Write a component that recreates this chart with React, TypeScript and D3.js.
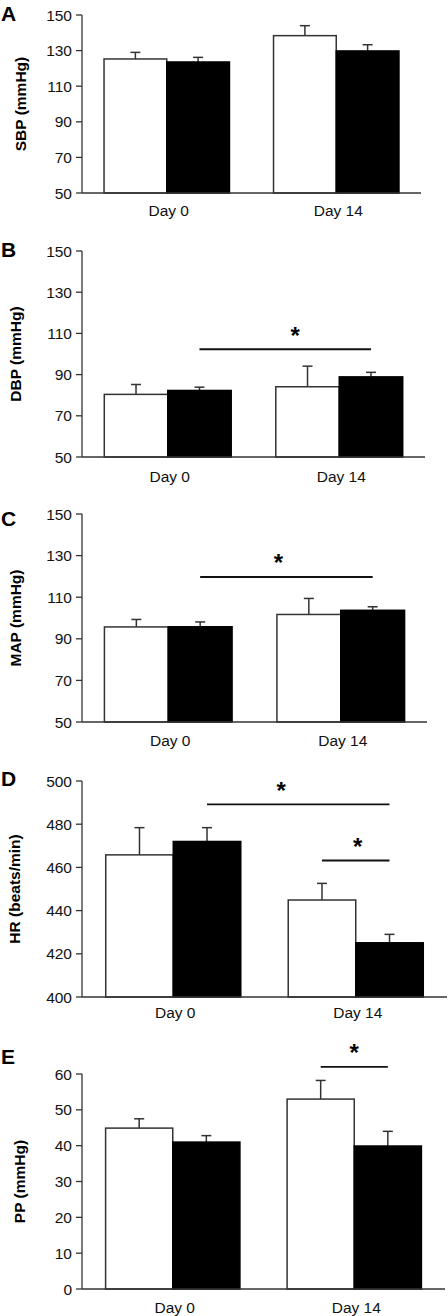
import React from "react";
import * as d3 from "d3";

// ---- data ----
const categories = ["Day 0", "Day 14"];
const groups = ["open", "filled"];
const panelLetters = ["A", "B", "C", "D", "E"];
const yLabels = ["SBP (mmHg)", "DBP (mmHg)", "MAP (mmHg)", "HR (beats/min)", "PP (mmHg)"];
const yDomains: [number, number][] = [[50, 150], [50, 150], [50, 150], [400, 500], [0, 60]];
const yTickValues = [
  [50, 70, 90, 110, 130, 150],
  [50, 70, 90, 110, 130, 150],
  [50, 70, 90, 110, 130, 150],
  [400, 420, 440, 460, 480, 500],
  [0, 10, 20, 30, 40, 50, 60],
];
// means per panel: [Day 0, Day 14]
const openMeans = [[125.3, 138.4], [80.4, 84.1], [95.7, 101.7], [465.8, 444.9], [44.9, 53.0]];
const openSEM = [[3.7, 5.6], [4.8, 10.0], [3.6, 7.7], [12.6, 7.7], [2.6, 5.2]];
const filledMeans = [[123.6, 129.8], [82.3, 88.9], [95.8, 103.7], [472.0, 425.1], [41.0, 39.9]];
const filledSEM = [[2.6, 3.5], [1.6, 2.2], [2.3, 1.7], [6.4, 3.9], [1.8, 4.1]];
// significance bars
const sigPanel = [1, 2, 3, 3, 4];
const sigFrom = [["Day 0", "filled"], ["Day 0", "filled"], ["Day 0", "filled"], ["Day 14", "open"], ["Day 14", "open"]];
const sigTo = [["Day 14", "filled"], ["Day 14", "filled"], ["Day 14", "filled"], ["Day 14", "filled"], ["Day 14", "filled"]];
const sigLevel = [102.3, 119.7, 489.2, 463.2, 62.0];
const sigLabel = ["*", "*", "*", "*", "*"];

// ---- layout (not data) ----
const axisX = 82;
const panelLayout = [
  { top: 15, bottom: 193, right: 421, letterY: 21, labelX: 26, dayDy: 23 },
  { top: 251, bottom: 457, right: 425, letterY: 257, labelX: 21, dayDy: 25 },
  { top: 514, bottom: 722, right: 427, letterY: 526, labelX: 21, dayDy: 24 },
  { top: 781, bottom: 997, right: 447, letterY: 786, labelX: 20, dayDy: 21 },
  { top: 1074, bottom: 1289, right: 445, letterY: 1064, labelX: 25, dayDy: 24 },
];
const starShift = [10, -8, -17, 2, 0];

const FONT = "'Liberation Sans', Arial, Helvetica, sans-serif";
const AX = "#333";

function Panel({ i }: { i: number }) {
  const L = panelLayout[i];
  const y = d3.scaleLinear().domain(yDomains[i]).range([L.bottom, L.top]);
  const x = d3
    .scaleBand<string>()
    .domain(categories)
    .range([axisX, L.right])
    .paddingInner(0.26)
    .paddingOuter(0.13);
  const xs = d3.scaleBand<string>().domain(groups).range([0, x.bandwidth()]);
  const means = [openMeans[i], filledMeans[i]];
  const sems = [openSEM[i], filledSEM[i]];
  const capW = 10;
  const center = (c: string, g: string) => (x(c) as number) + (xs(g) as number) + xs.bandwidth() / 2;

  return (
    <g>
      <text x={1} y={L.letterY} fontFamily={FONT} fontWeight="bold" fontSize={21}>
        {panelLetters[i]}
      </text>
      <text
        transform={`translate(${L.labelX},${(L.top + L.bottom) / 2}) rotate(-90)`}
        textAnchor="middle"
        fontFamily={FONT}
        fontWeight="bold"
        fontSize={15.5}
      >
        {yLabels[i]}
      </text>
      {/* bars */}
      {categories.map((c, ci) =>
        groups.map((g, gi) => {
          const v = means[gi][ci];
          const x0 = (x(c) as number) + (xs(g) as number);
          const cx = x0 + xs.bandwidth() / 2;
          const top = y(v);
          const et = y(v + sems[gi][ci]);
          return (
            <g key={c + g}>
              <line x1={cx} x2={cx} y1={top} y2={et} stroke={AX} strokeWidth={1.5} />
              <line x1={cx - capW / 2} x2={cx + capW / 2} y1={et} y2={et} stroke={AX} strokeWidth={1.5} />
              <rect
                x={x0}
                y={top}
                width={xs.bandwidth()}
                height={y(yDomains[i][0]) - top}
                fill={g === "open" ? "#fff" : "#000"}
                stroke={g === "open" ? AX : "#000"}
                strokeWidth={1.5}
              />
            </g>
          );
        })
      )}
      {/* y axis */}
      <line x1={axisX} x2={axisX} y1={L.top} y2={L.bottom} stroke={AX} strokeWidth={1.3} />
      {yTickValues[i].map((t) => (
        <g key={t}>
          <line x1={axisX - 6} x2={axisX} y1={y(t)} y2={y(t)} stroke={AX} strokeWidth={1.3} />
          <text x={axisX - 10} y={y(t)} dy="0.36em" textAnchor="end" fontFamily={FONT} fontSize={15.5} fill="#111">
            {t}
          </text>
        </g>
      ))}
      {/* x axis */}
      <line x1={axisX} x2={L.right} y1={L.bottom} y2={L.bottom} stroke={AX} strokeWidth={1.3} />
      {categories.map((c) => (
        <text
          key={c}
          x={(x(c) as number) + x.bandwidth() / 2 + 2}
          y={L.bottom + L.dayDy}
          textAnchor="middle"
          fontFamily={FONT}
          fontSize={15.5}
          fill="#111"
        >
          {c}
        </text>
      ))}
      {/* significance */}
      {sigPanel.map((p, si) => {
        if (p !== i) return null;
        const x1 = center(sigFrom[si][0], sigFrom[si][1]);
        const x2 = center(sigTo[si][0], sigTo[si][1]);
        const ly = y(sigLevel[si]);
        const fs = 24;
        return (
          <g key={si}>
            <line x1={x1} x2={x2} y1={ly} y2={ly} stroke="#111" strokeWidth={1.8} />
            <text
              x={(x1 + x2) / 2 + starShift[si]}
              y={ly - 19 + 0.56 * fs}
              textAnchor="middle"
              fontFamily={FONT}
              fontWeight="bold"
              fontSize={fs}
            >
              {sigLabel[si]}
            </text>
          </g>
        );
      })}
    </g>
  );
}

export default function App() {
  return (
    <div style={{ position: "absolute", left: 0, top: 0 }}>
      <svg width={448} height={1316} style={{ display: "block", background: "#fff" }}>
        {panelLetters.map((_, i) => (
          <Panel key={i} i={i} />
        ))}
      </svg>
    </div>
  );
}
